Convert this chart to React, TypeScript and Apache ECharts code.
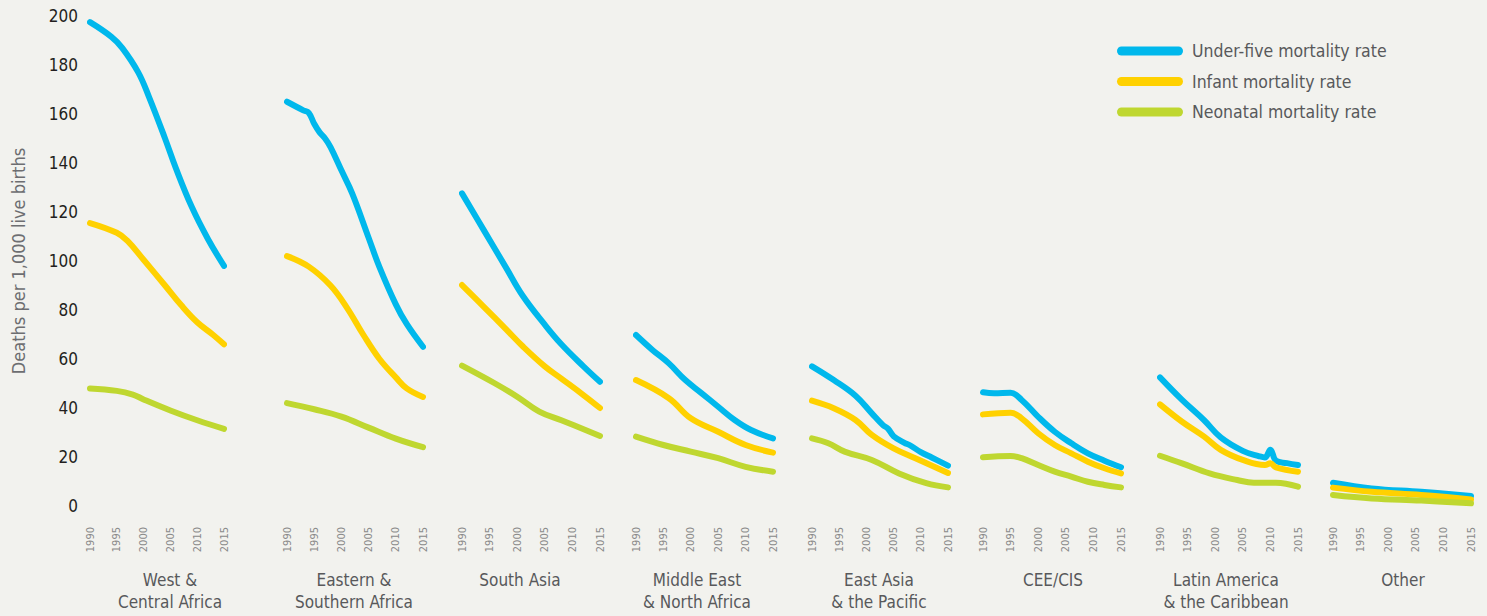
import React, { useEffect, useRef } from "react";
import * as echarts from "echarts";

// ---------- DATA ----------
const regions: string[] = [
  "West &\nCentral Africa",
  "Eastern &\nSouthern Africa",
  "South Asia",
  "Middle East\n& North Africa",
  "East Asia\n& the Pacific",
  "CEE/CIS",
  "Latin America\n& the Caribbean",
  "Other",
];

const seriesNames: string[] = [
  "Under-five mortality rate",
  "Infant mortality rate",
  "Neonatal mortality rate",
];

type Pt = [number, number];

const underFive: Pt[][] = [
  [[1990, 197.5], [1994, 191.5], [1996, 187], [1999, 177], [2001, 167], [2004, 150], [2006, 138], [2009, 122], [2012, 109], [2015, 98]],
  [[1990, 165], [1993, 161.5], [1994, 160.5], [1995, 156], [1996, 152.5], [1997, 150], [1998, 146.5], [2000, 137], [2002, 127.5], [2005, 109.5], [2007, 97.5], [2010, 82.3], [2012, 74.3], [2015, 65]],
  [[1990, 127.6], [1994, 112.4], [1998, 97.2], [2001, 85.8], [2005, 74], [2008, 66], [2012, 57], [2015, 50.7]],
  [[1990, 69.8], [1993, 63.7], [1996, 58.2], [1999, 51.4], [2002, 46], [2005, 40.5], [2008, 35.1], [2011, 31], [2015, 27.6]],
  [[1990, 57], [1994, 51.4], [1998, 45], [2001, 37.8], [2003, 33.1], [2004, 31.5], [2005, 28.5], [2007, 25.8], [2008, 24.8], [2010, 22], [2012, 19.8], [2015, 16.5]],
  [[1990, 46.4], [1992, 46], [1995, 46.2], [1997, 43.3], [2000, 36.4], [2003, 30.3], [2006, 25.6], [2009, 21.5], [2012, 18.5], [2015, 15.8]],
  [[1990, 52.5], [1994, 43.3], [1998, 35], [2001, 28], [2005, 22.5], [2008, 20.3], [2009, 19.8], [2010, 23], [2011, 18.5], [2013, 17.5], [2015, 16.7]],
  [[1990, 9.5], [1997, 7.2], [2006, 5.8], [2015, 4.1]],
];

const infant: Pt[][] = [
  [[1990, 115.5], [1995, 111.5], [1997, 108.2], [2000, 100.5], [2004, 90], [2007, 82], [2010, 75], [2013, 69.8], [2015, 66]],
  [[1990, 102], [1994, 97.7], [1998, 90], [2001, 81], [2004, 70], [2007, 60], [2010, 52.5], [2012, 48], [2015, 44.5]],
  [[1990, 90.2], [1994, 81.2], [1998, 72.1], [2001, 65.2], [2005, 57], [2008, 52], [2012, 45.3], [2015, 40]],
  [[1990, 51.4], [1996, 44], [2000, 35.8], [2005, 30.3], [2010, 24.9], [2015, 21.8]],
  [[1990, 43], [1994, 39.9], [1998, 35.1], [2001, 29], [2005, 23.5], [2009, 19.5], [2015, 13.5]],
  [[1990, 37.4], [1995, 38.1], [1997, 35.8], [2000, 29.7], [2003, 24.9], [2006, 21.5], [2009, 18.1], [2012, 15.4], [2015, 13.3]],
  [[1990, 41.5], [1994, 34.4], [1998, 28.3], [2001, 22.9], [2005, 18.8], [2009, 16.7], [2010, 17.5], [2011, 15.8], [2015, 14]],
  [[1990, 7.5], [1997, 5.8], [2006, 4.5], [2015, 2.7]],
];

const neonatal: Pt[][] = [
  [[1990, 48], [1995, 47], [1998, 45.5], [2000, 43.5], [2005, 39], [2010, 35], [2015, 31.5]],
  [[1990, 42], [1995, 39.5], [2000, 36.5], [2005, 32], [2010, 27.5], [2015, 24]],
  [[1990, 57.3], [1996, 50], [2000, 44.6], [2004, 38.5], [2008, 35], [2015, 28.6]],
  [[1990, 28.3], [1995, 24.9], [2000, 22.2], [2005, 19.5], [2010, 16], [2015, 14]],
  [[1990, 27.6], [1993, 25.6], [1996, 22.2], [2001, 18.8], [2006, 13.3], [2011, 9.3], [2015, 7.6]],
  [[1990, 19.9], [1995, 20.4], [1997, 19.5], [2000, 16.7], [2003, 14], [2006, 12], [2009, 9.9], [2012, 8.6], [2015, 7.6]],
  [[1990, 20.5], [1994, 17.4], [1999, 13.3], [2004, 10.6], [2007, 9.5], [2011, 9.5], [2015, 7.9]],
  [[1990, 4.5], [1997, 3.1], [2006, 2.2], [2015, 1.1]],
];

const yAxisTitle = "Deaths per 1,000 live births";

// ---------- LAYOUT / STYLE ----------
const panelLeft = [90, 287, 462, 636, 812, 983, 1160, 1333];
const panelRight = [224, 423, 600, 773, 948, 1121, 1298, 1471];
const labelCenter = [170, 354, 520, 697, 879, 1053, 1226, 1403];
const colors = ["#00b8ec", "#ffd100", "#bfd730"];
const FONT = "'Liberation Sans Narrow', 'DejaVu Sans Condensed', 'Roboto', sans-serif";
const W = 1487;
const H = 616;

export default function App() {
  const ref = useRef<HTMLDivElement>(null);

  useEffect(() => {
    document.body.style.margin = "0";
    if (!ref.current) return;
    const chart = echarts.init(ref.current, undefined, { renderer: "svg" });

    const grids: any[] = [];
    const xAxes: any[] = [];
    const yAxes: any[] = [];
    const series: any[] = [];
    const graphics: any[] = [];
    const allData = [underFive, infant, neonatal];

    regions.forEach((region, i) => {
      grids.push({
        left: panelLeft[i],
        width: panelRight[i] - panelLeft[i],
        top: 16,
        height: 490,
      });
      xAxes.push({
        type: "value",
        gridIndex: i,
        min: 1990,
        max: 2015,
        interval: 5,
        axisLine: { show: false },
        axisTick: { show: false },
        splitLine: { show: false },
        axisLabel: {
          rotate: 90,
          margin: 21,
          fontSize: 11,
          color: "#8a8a8a",
          fontFamily: FONT,
          formatter: (v: number) => String(v),
        },
      });
      yAxes.push({
        type: "value",
        gridIndex: i,
        min: 0,
        max: 200,
        interval: 20,
        axisLine: { show: false },
        axisTick: { show: false },
        splitLine: { show: false },
        axisLabel: {
          show: i === 0,
          margin: 12,
          fontSize: 17,
          color: "#231f20",
          fontFamily: FONT,
        },
        name: i === 0 ? yAxisTitle : "",
        nameLocation: "middle",
        nameGap: 63,
        nameTextStyle: { fontSize: 18, color: "#6d6e71", fontFamily: FONT },
      });
      allData.forEach((arr, k) => {
        series.push({
          type: "line",
          name: seriesNames[k],
          xAxisIndex: i,
          yAxisIndex: i,
          data: arr[i],
          smooth: 0.4,
          showSymbol: false,
          symbol: "none",
          silent: true,
          color: colors[k],
          lineStyle: { width: 6, color: colors[k], cap: "round", join: "round" },
        });
      });
      graphics.push({
        type: "text",
        x: labelCenter[i],
        y: 569,
        style: {
          text: region,
          textAlign: "center",
          textVerticalAlign: "top",
          fontSize: 17,
          lineHeight: 22,
          fill: "#58595b",
          fontFamily: FONT,
        },
      });
    });

    chart.setOption({
      animation: false,
      backgroundColor: "#f2f2ee",
      grid: grids,
      xAxis: xAxes,
      yAxis: yAxes,
      series,
      legend: {
        data: seriesNames,
        orient: "vertical",
        left: 1117,
        top: 42,
        padding: 0,
        itemWidth: 66,
        itemHeight: 9,
        itemGap: 12.5,
        icon: "path://M4.5,0 H61.5 A4.5,4.5 0 0 1 61.5,9 H4.5 A4.5,4.5 0 0 1 4.5,0 Z",
        selectedMode: false,
        textStyle: {
          fontSize: 17.5,
          color: "#58595b",
          fontFamily: FONT,
          padding: [0, 0, 0, 4],
        },
      },
      graphic: graphics,
    });

    return () => chart.dispose();
  }, []);

  return <div ref={ref} style={{ width: W, height: H }} />;
}
